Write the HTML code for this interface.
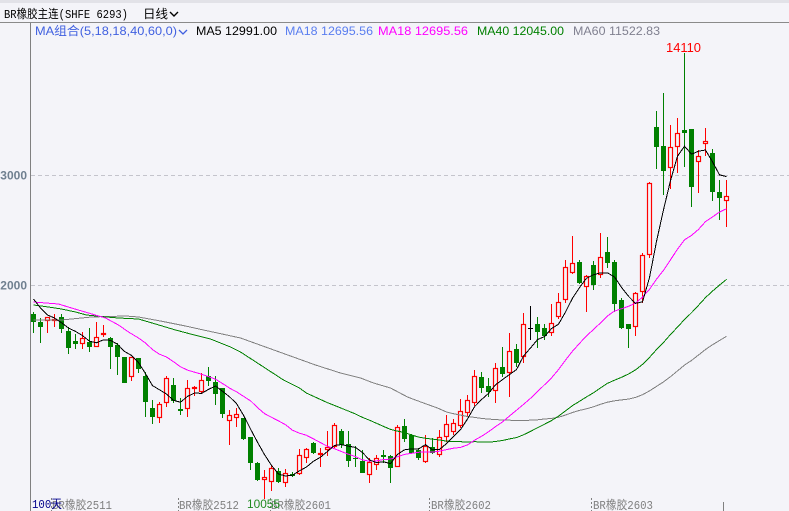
<!DOCTYPE html>
<html><head><meta charset="utf-8"><style>
html,body{margin:0;padding:0;background:#f4f4f9;overflow:hidden;}
svg{display:block}
text{font-family:"Liberation Sans","Noto Sans CJK SC",sans-serif;}
.mono{font-family:"Liberation Mono","Noto Sans CJK SC",monospace;}
</style></head><body>
<svg id="s" width="789" height="511" viewBox="0 0 789 511" xmlns="http://www.w3.org/2000/svg">
<rect width="789" height="511" fill="#f4f4f9"/>
<rect width="789" height="3" fill="#e2e2e8"/>
<line x1="0" y1="22.5" x2="789" y2="22.5" stroke="#8a8a8a"/>
<line x1="30.5" y1="23" x2="30.5" y2="511" stroke="#808080"/>
<line x1="31" y1="175.5" x2="789" y2="175.5" stroke="#c4c4cc" stroke-dasharray="4,3"/>
<line x1="31" y1="285.5" x2="789" y2="285.5" stroke="#c4c4cc" stroke-dasharray="4,3"/>
<text x="27" y="179.5" text-anchor="end" font-weight="bold" font-size="12" fill="#708090">3000</text>
<text x="27" y="289.5" text-anchor="end" font-weight="bold" font-size="12" fill="#708090">2000</text>

<text class="mono" x="4" y="18" font-size="12" fill="#000" textLength="124" lengthAdjust="spacingAndGlyphs">BR橡胶主连(SHFE 6293)</text>
<text class="mono" x="143" y="18" font-size="12" fill="#000" textLength="25" lengthAdjust="spacingAndGlyphs">日线</text>
<polyline points="170,12 174,16 178,12" fill="none" stroke="#000" stroke-width="1.4"/>

<text x="35" y="35" font-size="12" fill="#4060e0" textLength="142" lengthAdjust="spacingAndGlyphs">MA组合(5,18,18,40,60,0)</text>
<polyline points="179,30 183,34 187,30" fill="none" stroke="#4060e0" stroke-width="1.3"/>
<text x="196" y="35" font-size="12" fill="#000" textLength="81" lengthAdjust="spacingAndGlyphs">MA5 12991.00</text>
<text x="285" y="35" font-size="12" fill="#5a7ef0" textLength="88" lengthAdjust="spacingAndGlyphs">MA18 12695.56</text>
<text x="378" y="35" font-size="12" fill="#ff00ff" textLength="90" lengthAdjust="spacingAndGlyphs">MA18 12695.56</text>
<text x="477" y="35" font-size="12" fill="#008000" textLength="87" lengthAdjust="spacingAndGlyphs">MA40 12045.00</text>
<text x="573" y="35" font-size="12" fill="#808090" textLength="87" lengthAdjust="spacingAndGlyphs">MA60 11522.83</text>

<g id="c"></g>
<g id="m"></g>

<text x="666" y="52" font-size="13" fill="#ff0000" textLength="35" lengthAdjust="spacingAndGlyphs">14110</text>

<line x1="51.5" y1="498" x2="51.5" y2="511" stroke="#808080" stroke-dasharray="2,2"/>
<line x1="178.5" y1="498" x2="178.5" y2="511" stroke="#808080" stroke-dasharray="2,2"/>
<line x1="270.5" y1="498" x2="270.5" y2="511" stroke="#808080" stroke-dasharray="2,2"/>
<line x1="429.5" y1="498" x2="429.5" y2="511" stroke="#808080" stroke-dasharray="2,2"/>
<line x1="591.5" y1="498" x2="591.5" y2="511" stroke="#808080" stroke-dasharray="2,2"/>
<line x1="723.5" y1="502" x2="723.5" y2="511" stroke="#808080"/>
<text class="mono" x="52" y="509" font-size="12" fill="#808080" textLength="60" lengthAdjust="spacingAndGlyphs">BR橡胶2511</text>
<text class="mono" x="179" y="509" font-size="12" fill="#808080" textLength="60" lengthAdjust="spacingAndGlyphs">BR橡胶2512</text>
<text class="mono" x="271" y="509" font-size="12" fill="#808080" textLength="60" lengthAdjust="spacingAndGlyphs">BR橡胶2601</text>
<text class="mono" x="431" y="509" font-size="12" fill="#808080" textLength="60" lengthAdjust="spacingAndGlyphs">BR橡胶2602</text>
<text class="mono" x="593" y="509" font-size="12" fill="#808080" textLength="60" lengthAdjust="spacingAndGlyphs">BR橡胶2603</text>
<text class="mono" x="32" y="508" font-size="12" fill="#00008b" textLength="30" lengthAdjust="spacingAndGlyphs">100天</text>
<text x="247" y="508" font-size="12" fill="#228b22" textLength="33" lengthAdjust="spacingAndGlyphs">10055</text>
</svg>
<script>
const raw=`g 314 322 312 333
g 322 327 318 343
r 317 321 317 333
r 319 321 314 327
g 317 329 314 333
g 331 348 327 354
g 341 344 334 349
r 338 344 332 349
g 342 347 328 352
r 337 347 322 347
r 333 335 325 337
g 338 347 337 369
g 345 357 343 375
g 357 383 357 383
r 357 377 357 381
g 358 369 358 373
g 376 402 372 417
g 408 417 400 424
r 404 418 402 423
r 378 403 376 407
g 385 401 378 403
g 409 411 398 415
r 388 409 380 417
r 387 389 386 396
r 380 392 373 393
g 376 381 367 386
g 382 394 376 405
g 388 414 388 418
r 415 421 410 445
r 414 418 408 427
g 418 439 418 440
g 437 463 437 470
g 463 480 462 481
r 477 480 470 499
r 468 482 465 491
g 471 482 468 483
r 473 483 469 487
g 474 476 472 477
r 455 474 449 475
r 449 458 448 463
g 443 453 442 454
r 453 455 448 467
r 447 450 431 456
r 425 447 423 448
g 431 445 429 448
g 444 461 431 467
g 458 459 446 467
g 461 473 450 473
r 462 475 458 483
r 458 465 455 470
g 455 457 450 463
g 456 468 455 483
r 427 467 425 467
g 426 439 419 442
g 435 453 434 454
g 450 458 448 460
r 446 462 435 463
g 447 453 438 454
r 437 455 430 457
r 424 437 415 442
r 423 432 419 435
r 411 426 399 428
r 400 413 395 417
r 376 403 370 406
g 377 388 372 393
g 386 392 378 397
r 368 391 363 403
g 367 374 347 377
r 351 373 333 397
g 349 363 344 367
r 324 357 313 363
d 328 328 306 340
g 324 332 317 348
g 328 336 324 340
r 323 333 304 336
r 302 317 293 319
r 267 300 260 303
r 263 273 236 274
g 262 283 260 284
r 276 287 275 312
g 265 285 261 290
r 257 275 233 278
g 252 263 237 268
g 262 304 260 312
g 300 328 298 329
g 324 329 324 348
r 293 327 292 336
r 255 292 253 303
r 183 255 182 258
g 127 147 111 169
g 146 171 93 195
r 147 168 125 189
r 133 147 118 173
g 130 133 53 167
g 129 187 129 207
r 156 162 150 193
r 141 144 128 156
g 153 192 149 201
g 192 198 180 220
r 196 201 180 227`.trim().split('\n').map(l=>l.trim().split(/\s+/));
const NS='http://www.w3.org/2000/svg';
const cg=document.getElementById('c'), mg=document.getElementById('m');
function el(t,a,p){const e=document.createElementNS(NS,t);for(const k in a)e.setAttribute(k,a[k]);p.appendChild(e);return e;}
const BG='#f4f4f9';
const closes=[];
raw.forEach((r,i)=>{
  const t=r[0],top=+r[1],bot=+r[2],hi=+r[3],lo=+r[4];
  const cx=33+7*i, x=cx+0.5;
  if(t==='g'){
    closes.push(bot);
    el('line',{x1:x,y1:hi,x2:x,y2:lo,stroke:'#008000','shape-rendering':'crispEdges'},cg);
    el('rect',{x:cx-2,y:top,width:5,height:Math.max(1,bot-top),fill:'#008000','shape-rendering':'crispEdges'},cg);
  } else if(t==='r'){
    closes.push(top);
    if(hi<top) el('line',{x1:x,y1:hi,x2:x,y2:top,stroke:'#ff0000','shape-rendering':'crispEdges'},cg);
    if(lo>bot) el('line',{x1:x,y1:bot,x2:x,y2:lo,stroke:'#ff0000','shape-rendering':'crispEdges'},cg);
    el('rect',{x:cx-1.5,y:top+0.5,width:4,height:Math.max(1,bot-top-1),fill:BG,stroke:'#ff0000','stroke-width':1.2},cg);
  } else {
    closes.push(top);
    el('line',{x1:x,y1:hi,x2:x,y2:lo,stroke:'#000','shape-rendering':'crispEdges'},cg);
    el('line',{x1:cx-2,y1:top+0.5,x2:cx+3,y2:top+0.5,stroke:'#000','shape-rendering':'crispEdges'},cg);
  }
});
function ma(n,traced,color){
  const pts=traced.map(p=>(p[0]+0.5)+','+p[1]);
  for(let i=n-1;i<100;i++){let s=0;for(let j=i-n+1;j<=i;j++)s+=closes[j];pts.push((33+7*i+0.5)+','+(s/n).toFixed(1));}
  el('polyline',{points:pts.join(' '),fill:'none',stroke:color,'stroke-width':1,'shape-rendering':'crispEdges'},mg);
}
ma(60,[[33,320],[61,320],[91,317],[125,316],[138,317],[160,321],[185,326],[203,330],[217,333],[240,338],[265,347],[290,356],[315,365],[340,373],[360,378],[373,383],[390,388],[407,397],[423,403],[437,408]],'#808080');
ma(40,[[33,305],[48,307],[61,309],[75,312],[86,315],[106,317],[118,318],[138,319],[155,324],[175,330],[190,334],[210,339],[230,347],[240,352],[260,365],[283,380],[299,388]],'#008000');
ma(18,[[33,302],[58,304],[71,308],[88,313],[105,318],[118,325],[128,332],[138,338],[145,343]],'#ff00ff');
ma(5,[[33,299],[40,308],[47,315],[54,318]],'#000000');
</script>
</body></html>
